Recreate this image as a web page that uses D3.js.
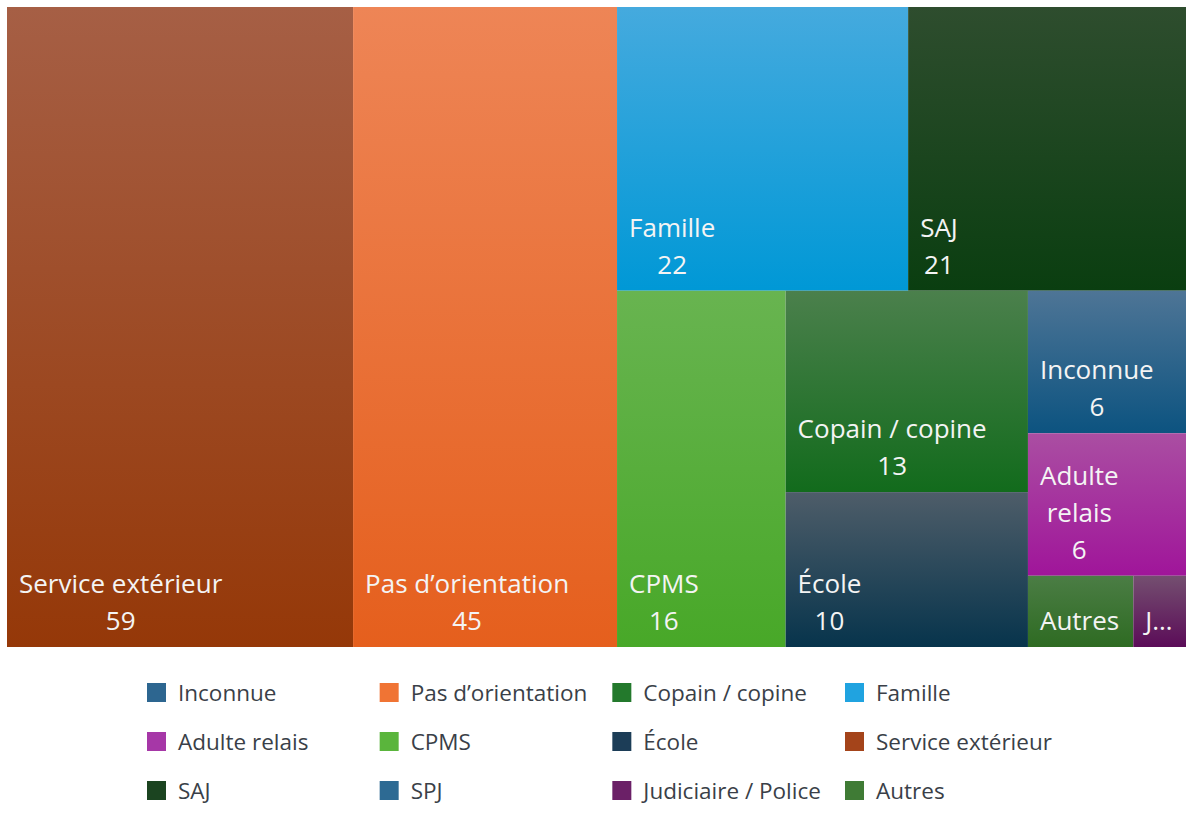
<!DOCTYPE html>
<html>
<head>
<meta charset="utf-8">
<script src="https://cdn.jsdelivr.net/npm/d3@7"></script>
<style>
  html, body { margin: 0; padding: 0; background: #ffffff; }
  svg { display: block; }
  text { font-family: "Segoe UI", "Open Sans", "Noto Sans", sans-serif; }
</style>
</head>
<body>
<svg id="chart" width="1186" height="829"></svg>
<script>
// ---------- DATA ----------
const categories = ["Service extérieur", "Pas d’orientation", "Famille", "SAJ", "CPMS",
  "Copain / copine", "École", "Inconnue", "Adulte relais", "Autres", "Judiciaire / Police"];
const values = [59, 45, 22, 21, 16, 13, 10, 6, 6, 2, 1];

// nesting of the tiles as drawn by the original treemap
const tileNesting = ["Service extérieur", "Pas d’orientation",
  [["Famille", "SAJ"],
   ["CPMS", ["Copain / copine", "École"], ["Inconnue", "Adulte relais", ["Autres", "Judiciaire / Police"]]]]];

const topColors = ["#a65f45", "#ee8556", "#45aade", "#2e4d2e", "#68b450",
  "#4b804c", "#4e5d69", "#4e7596", "#aa4ea2", "#4b7d45", "#744f70"];
const bottomColors = ["#953808", "#e55f1d", "#0098d6", "#0a3e10", "#48a828",
  "#126b1c", "#07344c", "#0c5380", "#a0159a", "#2e6b22", "#5b0c58"];

const legendLabels = ["Inconnue", "Pas d’orientation", "Copain / copine", "Famille",
  "Adulte relais", "CPMS", "École", "Service extérieur",
  "SAJ", "SPJ", "Judiciaire / Police", "Autres"];
const legendColors = ["#2d6690", "#f07434", "#23792c", "#20a3e0",
  "#a637a7", "#5ab53c", "#1c3d57", "#a4441a",
  "#1b4420", "#2d6a93", "#6b2067", "#3f7b35"];

// ---------- LAYOUT ----------
const svg = d3.select("#chart");
const plot = { x: 7, y: 7, w: 1179, h: 640 };

const root = d3.hierarchy(tileNesting, d => Array.isArray(d) ? d : null)
  .sum(d => Array.isArray(d) ? 0 : values[categories.indexOf(d)]);

d3.treemap()
  .size([plot.w, plot.h])
  .paddingInner(0)
  .tile((node, x0, y0, x1, y1) =>
    (node.depth % 2 === 0 ? d3.treemapDice : d3.treemapSlice)(node, x0, y0, x1, y1))(root);

const leaves = root.leaves();

const defs = svg.append("defs");
leaves.forEach(d => {
  const idx = categories.indexOf(d.data);
  const g = defs.append("linearGradient")
    .attr("id", "grad" + idx)
    .attr("x1", 0).attr("y1", 0).attr("x2", 0).attr("y2", 1);
  g.append("stop").attr("offset", "0%").attr("stop-color", topColors[idx]);
  g.append("stop").attr("offset", "100%").attr("stop-color", bottomColors[idx]);
});

const gPlot = svg.append("g").attr("transform", `translate(${plot.x},${plot.y})`);

const cells = gPlot.selectAll("g.cell")
  .data(leaves)
  .join("g")
  .attr("class", "cell")
  .attr("transform", d => `translate(${d.x0},${d.y0})`);

cells.append("rect")
  .attr("width", d => d.x1 - d.x0)
  .attr("height", d => d.y1 - d.y0)
  .attr("fill", d => `url(#grad${categories.indexOf(d.data)})`);

// ---------- LABELS ----------
const fontSize = 26;
const lineH = 37;
const padL = 12;
const padB = 17;

const measurer = svg.append("text").attr("font-size", fontSize).attr("visibility", "hidden");
function tw(s) { measurer.text(s); return measurer.node().getComputedTextLength(); }

cells.each(function(d) {
  const idx = categories.indexOf(d.data);
  const w = d.x1 - d.x0, h = d.y1 - d.y0;
  const avail = w - padL - 4;
  const name = categories[idx];
  let lines = [];
  if (tw(name) <= avail) {
    lines = [name];
  } else {
    const words = name.split(" ");
    let cur = "";
    words.forEach(word => {
      const t = cur ? cur + " " + word : word;
      if (tw(t) <= avail) cur = t;
      else { if (cur) lines.push(cur); cur = word; }
    });
    if (cur) lines.push(cur);
  }
  const maxLines = Math.floor((h - padB - 3) / lineH);
  let out;
  if (lines.length + 1 <= maxLines) {
    out = lines.concat([String(values[idx])]);
  } else {
    out = [lines[0]];
  }
  out = out.map(s => {
    if (tw(s) <= avail) return s;
    let t = s;
    while (t.length > 1 && tw(t + "…") > avail) t = t.slice(0, -1);
    return t + "…";
  });
  const blockW = d3.max(out, s => tw(s));
  const cx = padL + blockW / 2;
  const g = d3.select(this);
  out.forEach((s, k) => {
    g.append("text")
      .attr("x", out.length === 1 ? padL : cx)
      .attr("text-anchor", out.length === 1 ? "start" : "middle")
      .attr("y", h - padB - (out.length - 1 - k) * lineH)
      .attr("font-size", fontSize)
      .attr("fill", "#f4f4f4")
      .text(s);
  });
});
measurer.remove();

// ---------- LEGEND ----------
const legX = d3.scaleLinear().domain([0, 3]).range([147, 845]);
const legY = d3.scaleLinear().domain([0, 2]).range([693, 791]);

const leg = svg.append("g").selectAll("g")
  .data(legendLabels)
  .join("g")
  .attr("transform", (d, i) => `translate(${legX(i % 4)},${legY(Math.floor(i / 4))})`);

leg.append("rect")
  .attr("x", 0).attr("y", -10)
  .attr("width", 19).attr("height", 19)
  .attr("fill", (d, i) => legendColors[i]);

leg.append("text")
  .attr("x", 31).attr("y", 0)
  .attr("dy", "0.35em")
  .attr("font-size", 22.5)
  .attr("fill", "#3a3f48")
  .text(d => d);
</script>
</body>
</html>
